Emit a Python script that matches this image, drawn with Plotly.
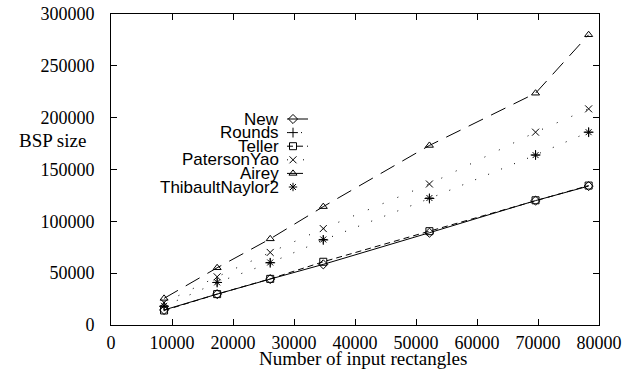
import plotly.graph_objects as go

# ---- data ----
n_rects = [8700, 17400, 26100, 34800, 52200, 69600, 78300]
new_vals = [14500, 29800, 44300, 58500, 89000, 120000, 134000]
rounds_vals = [18000, 41000, 60000, 82000, 122000, 164000, 186000]
teller_vals = [14000, 29800, 44500, 61000, 90500, 120300, 134500]
paterson_vals = [21500, 46500, 70000, 93000, 136000, 186000, 208500]
airey_vals = [25700, 55200, 83100, 114200, 173200, 223600, 280000]
thibault_vals = [18500, 41100, 60300, 82500, 122500, 163900, 186000]

x_ticks = [0, 10000, 20000, 30000, 40000, 50000, 60000, 70000, 80000]
y_ticks = [0, 50000, 100000, 150000, 200000, 250000, 300000]

series = [
    ("New", new_vals, "diamond-open", "solid"),
    ("Rounds", rounds_vals, "cross-thin-open", "1px,13px"),
    ("Teller", teller_vals, "square-open", "6px,4px"),
    ("PatersonYao", paterson_vals, "x-thin-open", "1px,15px"),
    ("Airey", airey_vals, "triangle-up-open", "16px,9px"),
    ("ThibaultNaylor2", thibault_vals, "asterisk-open", None),
]

fig = go.Figure()
for name, vals, sym, dash in series:
    fig.add_trace(go.Scatter(
        x=n_rects, y=vals, name=name,
        mode="lines+markers" if dash else "markers",
        line=dict(color="black", width=1, dash=dash if dash else "solid"),
        marker=dict(symbol=sym, size=7, color="black",
                    line=dict(color="black", width=1)),
        showlegend=False, cliponaxis=False,
    ))

# ---- gnuplot-style key (text right, sample left) on a pixel overlay axis ----
key_x_text = 281
key_y0 = 119
key_dy = 13.6
for i, (name, vals, sym, dash) in enumerate(series):
    yy = key_y0 + i * key_dy
    if dash:
        fig.add_trace(go.Scatter(
            x=[287, 308], y=[yy, yy], mode="lines",
            line=dict(color="black", width=1, dash=dash),
            xaxis="x2", yaxis="y2", showlegend=False, hoverinfo="skip"))
    fig.add_trace(go.Scatter(
        x=[293], y=[yy], mode="markers",
        marker=dict(symbol=sym, size=7, color="black",
                    line=dict(color="black", width=1)),
        xaxis="x2", yaxis="y2", showlegend=False, hoverinfo="skip"))
    fig.add_annotation(
        x=key_x_text, y=yy, xref="x2", yref="y2", text=name,
        showarrow=False, xanchor="right", yanchor="middle",
        font=dict(family="Liberation Sans", size=17, color="black"))

serif = "Liberation Serif"
axis_common = dict(showgrid=False, zeroline=False, showline=True, linecolor="black",
                   linewidth=1, mirror="ticks", ticks="inside", ticklen=6,
                   tickcolor="black", tickfont=dict(family=serif, size=18),
                   automargin=False)
fig.update_layout(
    width=625, height=374,
    margin=dict(l=111, r=26, t=14, b=49),
    paper_bgcolor="white", plot_bgcolor="white",
    font=dict(family=serif, size=18, color="black"),
    xaxis=dict(range=[0, 80000], tickvals=x_ticks, ticktext=[str(v) for v in x_ticks],
               ticklabelstandoff=1, **axis_common),
    yaxis=dict(range=[0, 300000], tickvals=y_ticks, ticktext=[str(v) for v in y_ticks],
               ticklabelstandoff=12, **axis_common),
    xaxis2=dict(overlaying="x", range=[111, 599], visible=False, fixedrange=True),
    yaxis2=dict(overlaying="y", range=[325, 14], visible=False, fixedrange=True),
)

fig.add_annotation(x=363, y=358, xref="paper", yref="paper", text="Number of input rectangles",
                   showarrow=False, xanchor="center", yanchor="middle",
                   font=dict(family=serif, size=19))
fig.add_annotation(x=52, y=140, xref="paper", yref="paper", text="BSP size",
                   showarrow=False, xanchor="center", yanchor="middle",
                   font=dict(family=serif, size=19))

# convert the pixel positions of the two axis titles into paper fractions
for ann in fig.layout.annotations[-2:]:
    ann.x = (ann.x - 111) / (625 - 111 - 26)
    ann.y = 1 - (ann.y - 14) / (374 - 14 - 49)

fig.write_html("out.html", config={"displayModeBar": False},
               post_script="document.body.style.margin='0px';document.body.style.overflow='hidden';")
